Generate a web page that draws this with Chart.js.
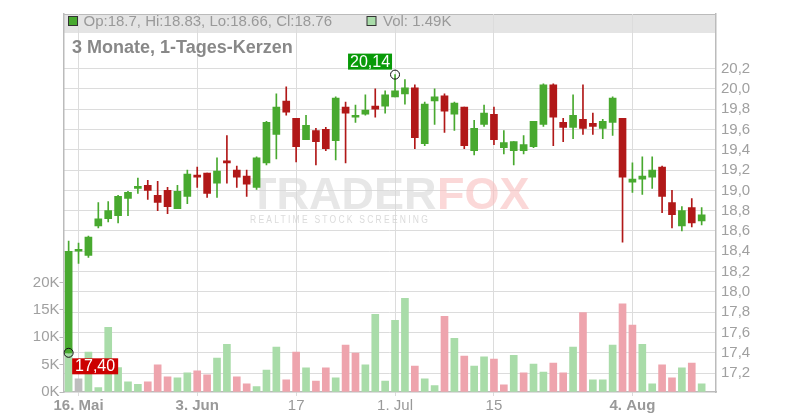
<!DOCTYPE html>
<html>
<head>
<meta charset="utf-8">
<script src="https://cdn.jsdelivr.net/npm/chart.js@4.4.1/dist/chart.umd.min.js"></script>
<style>
  html, body { margin: 0; padding: 0; background: #fff; }
  #wrap { width: 800px; height: 420px; position: relative; }
</style>
</head>
<body>
<div id="wrap"><canvas id="chart"></canvas></div>
<script>
// daily candles, trading days only, index 0 = 15. Mai, index 64 = 13. Aug
const opens  = [17.40, 18.40, 18.36, 18.65, 18.72, 18.75, 18.92, 19.02, 19.05, 18.95,
                19.00, 18.82, 18.94, 19.15, 19.17, 19.07, 19.28, 19.20, 19.14, 19.03,
                19.27, 19.55, 19.88, 19.71, 19.50, 19.59, 19.60, 19.49, 19.82, 19.72,
                19.75, 19.83, 19.83, 19.92, 19.95, 20.01, 19.46, 19.88, 19.93, 19.75,
                19.82, 19.39, 19.65, 19.75, 19.42, 19.39, 19.39, 19.43, 19.65, 20.04,
                19.67, 19.62, 19.70, 19.66, 19.61, 19.67, 19.71, 19.08, 19.11, 19.13,
                19.23, 18.88, 18.65, 18.83, 18.70];
const highs  = [18.50, 18.48, 18.55, 18.88, 18.89, 18.95, 18.99, 19.12, 19.10, 19.09,
                19.03, 19.05, 19.20, 19.23, 19.17, 19.32, 19.54, 19.24, 19.20, 19.33,
                19.68, 19.95, 20.02, 19.71, 19.74, 19.61, 19.62, 19.92, 19.87, 19.84,
                19.94, 20.00, 19.98, 20.14, 20.09, 20.04, 19.87, 20.00, 19.95, 19.87,
                19.82, 19.69, 19.84, 19.82, 19.59, 19.48, 19.54, 19.68, 20.05, 20.05,
                19.71, 19.94, 20.04, 19.76, 19.70, 19.92, 19.71, 19.27, 19.33, 19.33,
                19.24, 19.00, 18.84, 18.92, 18.83];
const lows   = [17.40, 18.28, 18.34, 18.63, 18.69, 18.68, 18.75, 18.97, 18.91, 18.80,
                18.77, 18.82, 18.87, 19.03, 18.93, 18.93, 19.07, 19.03, 18.94, 19.01,
                19.25, 19.31, 19.74, 19.28, 19.50, 19.25, 19.39, 19.30, 19.27, 19.67,
                19.74, 19.72, 19.76, 19.92, 19.85, 19.41, 19.44, 19.65, 19.57, 19.59,
                19.41, 19.35, 19.63, 19.45, 19.36, 19.25, 19.36, 19.42, 19.63, 19.44,
                19.48, 19.51, 19.55, 19.55, 19.51, 19.54, 18.49, 18.98, 18.96, 19.02,
                18.78, 18.63, 18.60, 18.64, 18.66];
const closes = [18.40, 18.40, 18.54, 18.72, 18.80, 18.94, 18.98, 19.04, 19.00, 18.88,
                18.84, 18.99, 19.16, 19.13, 18.97, 19.19, 19.27, 19.13, 19.06, 19.32,
                19.67, 19.82, 19.77, 19.43, 19.64, 19.48, 19.41, 19.91, 19.76, 19.74,
                19.79, 19.80, 19.94, 19.98, 20.01, 19.52, 19.85, 19.92, 19.78, 19.86,
                19.44, 19.61, 19.76, 19.50, 19.47, 19.48, 19.45, 19.68, 20.04, 19.72,
                19.62, 19.74, 19.61, 19.63, 19.68, 19.91, 19.13, 19.11, 19.14, 19.20,
                18.94, 18.76, 18.80, 18.68, 18.76];
const volumes = [8000, 2400, 7300, 800, 11800, 4450, 1850, 1400, 1850, 4950,
                 2750, 2600, 3500, 3850, 3150, 6200, 8700, 2750, 1500, 1000,
                 4000, 8200, 2200, 7300, 4400, 2000, 4400, 2600, 8550, 7100,
                 4950, 14200, 2000, 13100, 17100, 4750, 2400, 1150, 13800, 9800,
                 6550, 4750, 6400, 6000, 1300, 6700, 3500, 5100, 3650, 5300,
                 3500, 8200, 14500, 2200, 2200, 8550, 16100, 12200, 8700, 1500,
                 4950, 2600, 4400, 5300, 1490];

const xTickIndex  = [1, 13, 23, 33, 43, 57];
const xTickLabels = ['16. Mai', '3. Jun', '17', '1. Jul', '15', '4. Aug'];
const xTickBold   = [true, true, false, false, false, true];
const priceTicks  = [17.2, 17.4, 17.6, 17.8, 18.0, 18.2, 18.4, 18.6, 18.8, 19.0, 19.2, 19.4, 19.6, 19.8, 20.0, 20.2];
const volumeTicks = [0, 5000, 10000, 15000, 20000];

const headerText = 'Op:18.7, Hi:18.83, Lo:18.66, Cl:18.76';
const volText = 'Vol: 1.49K';
const titleText = '3 Monate, 1-Tages-Kerzen';
const highMark = { index: 33, value: 20.14, label: '20,14' };
const lowMark  = { index: 0, value: 17.40, label: '17,40' };

const GREEN = '#48a92f';
const RED = '#b11818';
const VOL_UP = '#a9dca9';
const VOL_DOWN = '#eea4ad';
const VOL_FLAT = '#bdbdbd';
const FONT = '"Liberation Sans", Arial, sans-serif';

const idx = opens.map((_, i) => i);
const candleColor = idx.map(i => closes[i] >= opens[i] ? GREEN : RED);
const volColor = idx.map(i => {
    if (i === 0 || closes[i] > closes[i - 1]) return VOL_UP;
    return closes[i] < closes[i - 1] ? VOL_DOWN : VOL_FLAT;
});

// header bar, watermark, title and the hi/lo labels
const decor = {
    id: 'decor',
    beforeDraw(chart) {
        const { ctx, chartArea: a } = chart;
        ctx.save();
        ctx.fillStyle = '#e4e4e4';
        ctx.fillRect(a.left, a.top, a.right - a.left, 19);
        ctx.strokeStyle = '#bbb';
        ctx.lineWidth = 1;
        ctx.beginPath();
        ctx.moveTo(a.left, a.top + 0.5);
        ctx.lineTo(a.right, a.top + 0.5);
        ctx.stroke();
        ctx.restore();
    },
    beforeDatasetsDraw(chart) {
        const { ctx } = chart;
        ctx.save();
        // watermark
        ctx.textBaseline = 'alphabetic';
        ctx.font = 'bold 45px ' + FONT;
        ctx.fillStyle = 'rgba(215,215,215,0.6)';
        ctx.fillText('TRADER', 249, 209, 188);
        ctx.fillStyle = 'rgba(248,190,190,0.6)';
        ctx.fillText('FOX', 437, 209, 100);
        ctx.font = '10px ' + FONT;
        ctx.letterSpacing = '2.6px';
        ctx.fillStyle = 'rgba(210,210,210,0.8)';
        ctx.fillText('REALTIME STOCK SCREENING', 250, 222.5, 180);
        ctx.letterSpacing = '0px';

        // header legend
        ctx.textBaseline = 'middle';
        ctx.lineWidth = 1;
        ctx.fillStyle = GREEN;
        ctx.fillRect(68.5, 16.5, 9, 9);
        ctx.strokeStyle = '#333';
        ctx.strokeRect(68.5, 16.5, 9, 9);
        ctx.fillStyle = VOL_UP;
        ctx.fillRect(367, 16.5, 9, 9);
        ctx.strokeRect(367, 16.5, 9, 9);
        ctx.font = '15px ' + FONT;
        ctx.fillStyle = '#999';
        ctx.fillText(headerText, 83.5, 21.5);
        ctx.fillText(volText, 383, 21.5);

        ctx.font = 'bold 18px ' + FONT;
        ctx.fillStyle = '#888';
        ctx.fillText(titleText, 72, 48);
        ctx.restore();
    },
    afterDatasetsDraw(chart) {
        const { ctx, scales } = chart;
        ctx.save();
        ctx.font = '16px ' + FONT;
        ctx.textBaseline = 'middle';
        ctx.textAlign = 'center';

        let px = scales.x.getPixelForValue(highMark.index);
        let py = scales.y.getPixelForValue(highMark.value);
        ctx.fillStyle = '#089a08';
        ctx.fillRect(px - 47, py - 21, 44, 16);
        ctx.fillStyle = '#fff';
        ctx.fillText(highMark.label, px - 25, py - 12.5);

        px = scales.x.getPixelForValue(lowMark.index);
        py = scales.y.getPixelForValue(lowMark.value);
        ctx.fillStyle = '#cc0000';
        ctx.fillRect(px + 3.5, py + 5.5, 46, 16);
        ctx.fillStyle = '#fff';
        ctx.fillText(lowMark.label, px + 26.5, py + 14);
        ctx.restore();
    }
};

new Chart(document.getElementById('chart'), {
    type: 'bar',
    data: {
        datasets: [
            {
                label: 'Volumen',
                data: idx.map(i => ({ x: i, y: volumes[i] })),
                yAxisID: 'yVol',
                backgroundColor: volColor,
                barThickness: 7,
                grouped: false,
                order: 3
            },
            {
                label: 'Docht',
                data: idx.map(i => ({ x: i, y: [lows[i], highs[i]] })),
                yAxisID: 'y',
                backgroundColor: candleColor,
                barThickness: 1,
                grouped: false,
                order: 2
            },
            {
                label: 'Kerze',
                data: idx.map(i => ({ x: i, y: [opens[i], closes[i]] })),
                yAxisID: 'y',
                backgroundColor: candleColor,
                barThickness: 7,
                minBarLength: 2,
                grouped: false,
                order: 1
            },
            {
                type: 'scatter',
                label: 'Hoch/Tief',
                data: [
                    { x: lowMark.index, y: lowMark.value },
                    { x: highMark.index, y: highMark.value }
                ],
                yAxisID: 'y',
                pointRadius: 4.5,
                borderColor: '#111',
                borderWidth: 1,
                backgroundColor: 'rgba(0,0,0,0)',
                order: 0
            }
        ]
    },
    options: {
        responsive: true,
        maintainAspectRatio: false,
        animation: false,
        layout: { padding: { top: 11, left: 0, right: 0, bottom: 0 } },
        plugins: { legend: { display: false }, tooltip: { enabled: false } },
        scales: {
            x: {
                type: 'linear',
                offset: false,
                min: -0.52,
                max: 65.45,
                afterBuildTicks: s => { s.ticks = xTickIndex.map(v => ({ value: v })); },
                afterFit: s => { s.height = 28; },
                grid: { color: '#dcdcdc', tickLength: 4, offset: false },
                border: { color: '#bbb', width: 1.5 },
                ticks: {
                    autoSkip: false,
                    maxRotation: 0,
                    padding: 1,
                    color: '#999',
                    font: c => ({ family: FONT, size: 15, weight: xTickBold[c.index] ? 'bold' : 'normal' }),
                    callback: (v, i) => xTickLabels[i]
                }
            },
            y: {
                position: 'right',
                min: 17.014,
                max: 20.737,
                afterBuildTicks: s => { s.ticks = priceTicks.map(v => ({ value: v })); },
                afterFit: s => { s.width = 84; },
                grid: { color: '#dcdcdc', drawTicks: false },
                border: { color: '#bbb', width: 1.5 },
                ticks: {
                    padding: 5,
                    color: '#a0a0a0',
                    font: { family: FONT, size: 15 },
                    callback: v => v.toFixed(1).replace('.', ',')
                }
            },
            yVol: {
                position: 'left',
                min: 0,
                max: 69000,
                afterBuildTicks: s => { s.ticks = volumeTicks.map(v => ({ value: v })); },
                afterFit: s => { s.width = 63.5; },
                grid: { drawOnChartArea: false, tickLength: 4, color: '#bbb' },
                border: { color: '#bbb', width: 1.5 },
                ticks: {
                    padding: 0,
                    color: '#a0a0a0',
                    font: { family: FONT, size: 15 },
                    callback: v => (v / 1000) + 'K'
                }
            }
        }
    },
    plugins: [decor]
});
</script>
</body>
</html>
